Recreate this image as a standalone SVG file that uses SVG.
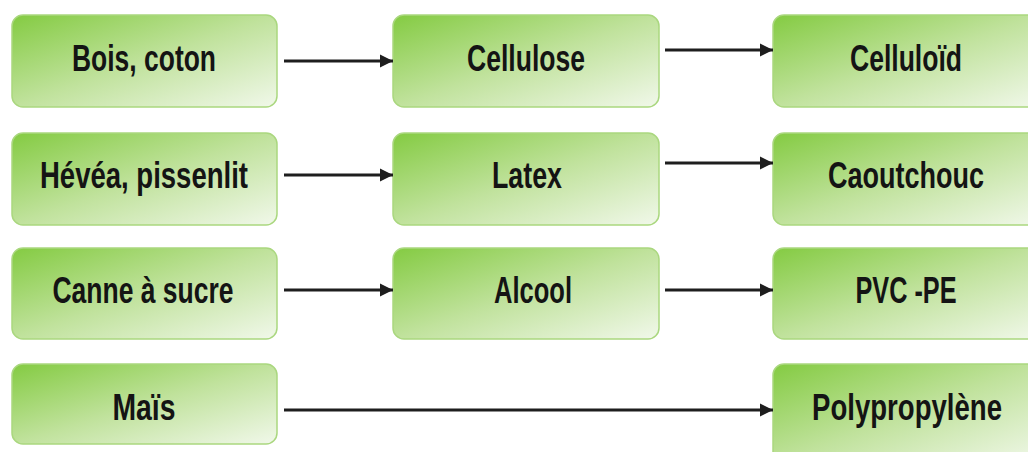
<svg xmlns="http://www.w3.org/2000/svg" width="1028" height="452" viewBox="0 0 1028 452">
  <defs>
    <linearGradient id="boxFill" x1="0" y1="0" x2="1" y2="1">
      <stop offset="0" stop-color="#84cb42"/>
      <stop offset="0.5" stop-color="#c0e29c"/>
      <stop offset="1" stop-color="#f1f8ea"/>
    </linearGradient>
    <marker id="head" markerUnits="userSpaceOnUse" markerWidth="14" markerHeight="14" refX="13" refY="7" orient="auto">
      <path d="M0,0.5 L13,7 L0,13.5 Z" fill="#1e1e1e"/>
    </marker>
    <style>
      .box { fill: url(#boxFill); stroke: #aad77f; stroke-width: 1.5; }
      .lbl { font-family: "Liberation Sans", Arial, sans-serif; font-weight: bold; font-size: 36px; fill: #141414; text-anchor: middle; }
      .arrow { stroke: #1e1e1e; stroke-width: 3; fill: none; marker-end: url(#head); }
    </style>
  </defs>
  <rect width="1028" height="452" fill="#ffffff"/>

  <!-- row 1 -->
  <g id="bois-coton">
    <rect class="box" x="12" y="15" width="265" height="92" rx="11"/>
    <text class="lbl" x="144" y="71" textLength="144" lengthAdjust="spacingAndGlyphs">Bois, coton</text>
  </g>
  <g id="cellulose">
    <rect class="box" x="393" y="15" width="266" height="92" rx="11"/>
    <text class="lbl" x="526" y="71" textLength="118" lengthAdjust="spacingAndGlyphs">Cellulose</text>
  </g>
  <g id="celluloid">
    <rect class="box" x="773" y="15" width="266" height="92" rx="11"/>
    <text class="lbl" x="906" y="71" textLength="112" lengthAdjust="spacingAndGlyphs">Celluloïd</text>
  </g>

  <!-- row 2 -->
  <g id="hevea-pissenlit">
    <rect class="box" x="12" y="133" width="265" height="92" rx="11"/>
    <text class="lbl" x="144" y="188" textLength="208" lengthAdjust="spacingAndGlyphs">Hévéa, pissenlit</text>
  </g>
  <g id="latex">
    <rect class="box" x="393" y="133" width="266" height="92" rx="11"/>
    <text class="lbl" x="527" y="188" textLength="70" lengthAdjust="spacingAndGlyphs">Latex</text>
  </g>
  <g id="caoutchouc">
    <rect class="box" x="773" y="133" width="266" height="92" rx="11"/>
    <text class="lbl" x="906" y="188" textLength="156" lengthAdjust="spacingAndGlyphs">Caoutchouc</text>
  </g>

  <!-- row 3 -->
  <g id="canne-a-sucre">
    <rect class="box" x="12" y="248" width="265" height="91" rx="11"/>
    <text class="lbl" x="143" y="303" textLength="181" lengthAdjust="spacingAndGlyphs">Canne à sucre</text>
  </g>
  <g id="alcool">
    <rect class="box" x="393" y="248" width="266" height="91" rx="11"/>
    <text class="lbl" x="533" y="303" textLength="78" lengthAdjust="spacingAndGlyphs">Alcool</text>
  </g>
  <g id="pvc-pe">
    <rect class="box" x="773" y="248" width="266" height="91" rx="11"/>
    <text class="lbl" x="906" y="303" textLength="101" lengthAdjust="spacingAndGlyphs">PVC -PE</text>
  </g>

  <!-- row 4 -->
  <g id="mais">
    <rect class="box" x="12" y="364" width="265" height="80" rx="11"/>
    <text class="lbl" x="144" y="420" textLength="63" lengthAdjust="spacingAndGlyphs">Maïs</text>
  </g>
  <g id="polypropylene">
    <rect class="box" x="773" y="364" width="266" height="100" rx="11"/>
    <text class="lbl" x="907" y="420" textLength="190" lengthAdjust="spacingAndGlyphs">Polypropylène</text>
  </g>

  <g id="connectors">
    <line class="arrow" x1="284" y1="61" x2="393" y2="61"/>
    <line class="arrow" x1="665" y1="50" x2="773" y2="50"/>
    <line class="arrow" x1="284" y1="175" x2="393" y2="175"/>
    <line class="arrow" x1="665" y1="163" x2="773" y2="163"/>
    <line class="arrow" x1="284" y1="290" x2="393" y2="290"/>
    <line class="arrow" x1="665" y1="290" x2="773" y2="290"/>
    <line class="arrow" x1="284" y1="410" x2="773" y2="410"/>
  </g>
</svg>
